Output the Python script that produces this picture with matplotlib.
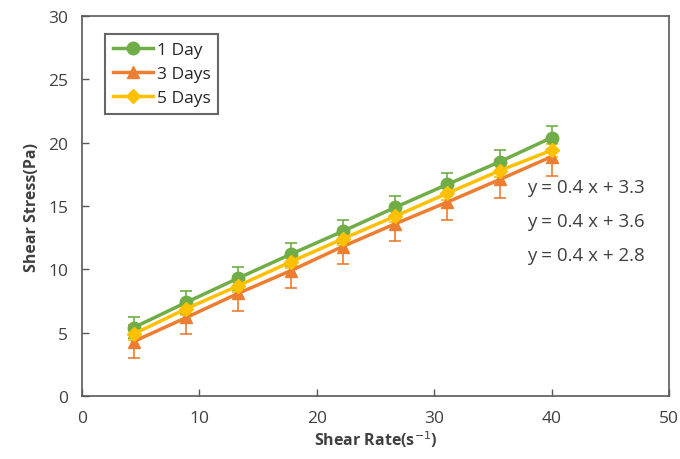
import matplotlib
matplotlib.use("Agg")
import matplotlib.pyplot as plt
from matplotlib.lines import Line2D

shear_rate = [4.4, 8.9, 13.3, 17.8, 22.2, 26.7, 31.1, 35.6, 40.0]
day1 = [5.4, 7.4, 9.3, 11.2, 13.0, 14.9, 16.7, 18.5, 20.4]
day3 = [4.3, 6.2, 8.1, 9.9, 11.8, 13.6, 15.3, 17.1, 18.9]
day5 = [4.9, 6.9, 8.7, 10.6, 12.4, 14.2, 16.0, 17.8, 19.4]
err1 = [0.85, 0.9, 0.9, 0.9, 0.9, 0.9, 0.9, 0.9, 0.9]
err3 = [1.3, 1.3, 1.4, 1.4, 1.4, 1.4, 1.4, 1.5, 1.5]
err5 = [0.5, 0.5, 0.5, 0.5, 0.5, 0.5, 0.5, 0.5, 0.5]
labels = ["1 Day", "3 Days", "5 Days"]
equations = ["y = 0.4 x + 3.3", "y = 0.4 x + 3.6", "y = 0.4 x + 2.8"]

plt.rcParams['font.family'] = ['Open Sans', 'DejaVu Sans']

fig = plt.figure(figsize=(6.8, 4.6), dpi=100)
ax = fig.add_axes([0.1206, 0.137, 0.8632, 0.826])

green = '#70AD47'
orange = '#ED7D31'
yellow = '#FFC000'

series = [(day1, err1, green, 'o', 9), (day3, err3, orange, '^', 9), (day5, err5, yellow, 'D', 7)]
handles = []
for (vals, err, col, mk, ms), lab in zip(series, labels):
    ax.errorbar(shear_rate, vals, yerr=err, color=col, marker=mk, markersize=ms,
                linewidth=2.5, elinewidth=1.2, capsize=4, capthick=1.2)
    handles.append(Line2D([], [], color=col, marker=mk, markersize=ms, linewidth=2.5, label=lab))

ax.set_xlim(0, 50)
ax.set_ylim(0, 30)
ax.set_xticks(range(0, 51, 10))
ax.set_yticks(range(0, 31, 5))
ax.tick_params(direction='in', length=5, width=1, colors='#595959', labelcolor='#404040',
               labelsize=12.5, pad=10)
for sp in ax.spines.values():
    sp.set_color('#595959')
    sp.set_linewidth(1.2)

ax.set_xlabel('Shear Rate(s$^{-1}$)', fontsize=11.5, fontweight='bold', color='#404040', labelpad=2)
ax.set_ylabel('Shear Stress(Pa)', fontsize=11.5, fontweight='bold', color='#404040', labelpad=6)

for i, eq in enumerate(equations):
    ax.text(37.9, 16.5 - i * 2.7, eq, fontsize=13.5, color='#404040', va='center', ha='left')

leg = ax.legend(handles=handles, loc='upper left', bbox_to_anchor=(0.025, 0.975), fontsize=12.5,
                frameon=True, fancybox=False, edgecolor='#404040', handlelength=2.3,
                handletextpad=0.2, borderpad=0.45, labelspacing=0.45)
leg.get_frame().set_linewidth(1.5)
for t in leg.get_texts():
    t.set_color('#262626')

fig.savefig('out.png', dpi=100)
